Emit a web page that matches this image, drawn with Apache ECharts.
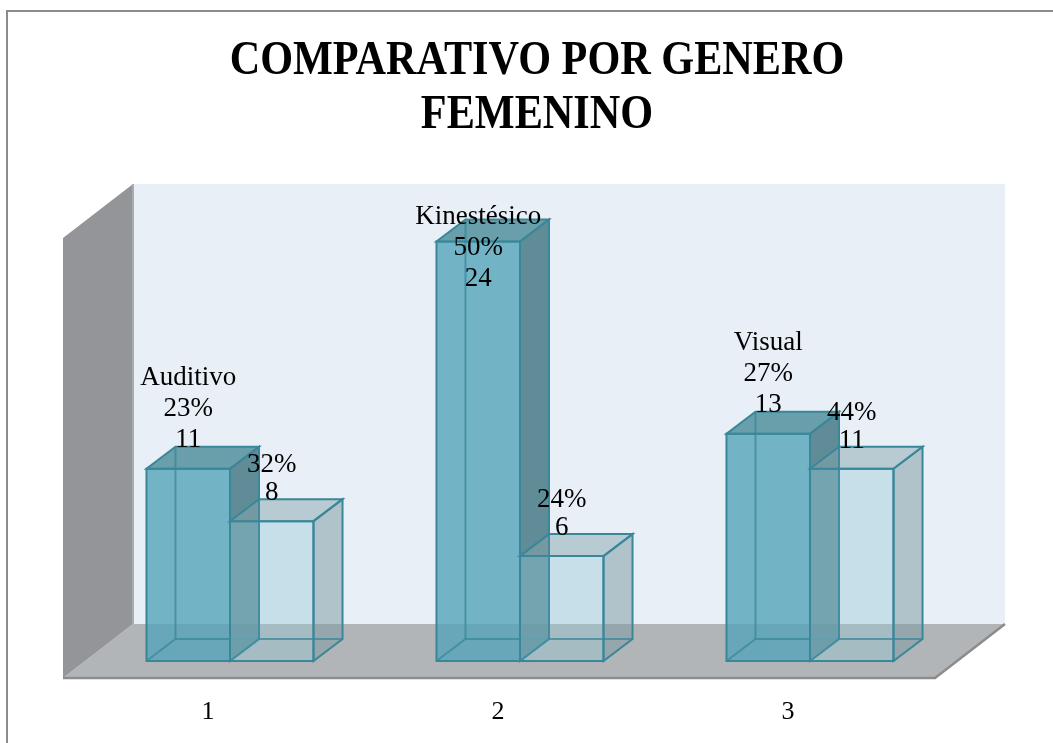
<!DOCTYPE html>
<html>
<head>
<meta charset="utf-8">
<script src="https://cdn.jsdelivr.net/npm/echarts@6/dist/echarts.min.js"></script>
<style>
html, body { margin: 0; padding: 0; background: #ffffff; }
#echarts { width: 1053px; height: 743px; }
</style>
</head>
<body>
<div id="echarts"></div>
<script>
// categorias del eje x
var categories = ['1', '2', '3'];
// nombre de cada estilo (solo en la primera serie)
var styleNames = ['Auditivo', 'Kinestésico', 'Visual'];
// valores de las dos series
var serieA = [11, 24, 13];
var serieB = [8, 6, 11];

var titleLines = ['COMPARATIVO POR GENERO', 'FEMENINO'];

function sum(arr) {
  var s = 0;
  for (var i = 0; i < arr.length; i++) { s += arr[i]; }
  return s;
}
function pct(v, arr) {
  return Math.round(v / sum(arr) * 100) + '%';
}

var edge = '#3a8799';
var colorsA = { front: 'rgba(85,164,186,0.8)', top: 'rgba(81,144,157,0.85)', side: 'rgba(72,122,135,0.85)' };
var colorsB = { front: 'rgba(147,199,213,0.4)', top: 'rgba(136,165,174,0.5)', side: 'rgba(120,151,160,0.5)' };

//dibuja una barra 3D con su etiqueta
function makeBox(side, colors, labelOf, lineCount) {
  return function (params, api) {
    var idx = api.value(0);
    var val = api.value(1);
    var base = api.coord([idx, 0]);
    var topPt = api.coord([idx, val]);
    var band = api.size([1, 0])[0];
    var w = band * 0.288;
    var xl = side === 0 ? base[0] - w : base[0];
    var xr = xl + w;
    var yt = topPt[1], yb = base[1];
    var dx = 29, dy = -22;
    var cs = params.coordSys;
    var lh = lineCount === 3 ? 31 : 28;
    var labelBottom;
    if (lineCount === 3) {
      labelBottom = Math.max(yt - 13, cs.y + 70);
    } else {
      labelBottom = yt - 14;
    }
    return {
      type: 'group',
      children: [
        {
          type: 'rect',
          shape: { x: xl, y: yt, width: w, height: yb - yt },
          style: { fill: colors.front, stroke: edge, lineWidth: 2 }
        },
        {
          type: 'polygon',
          shape: { points: [[xl, yt], [xr, yt], [xr + dx, yt + dy], [xl + dx, yt + dy]] },
          style: { fill: colors.top, stroke: edge, lineWidth: 2 }
        },
        {
          type: 'polygon',
          shape: { points: [[xr, yt], [xr + dx, yt + dy], [xr + dx, yb + dy], [xr, yb]] },
          style: { fill: colors.side, stroke: edge, lineWidth: 2 }
        },
        {
          type: 'polyline',
          shape: { points: [[xl, yb], [xl + dx, yb + dy], [xr + dx, yb + dy]] },
          style: { fill: null, stroke: 'rgba(58,135,153,0.75)', lineWidth: 2 }
        },
        {
          type: 'line',
          shape: { x1: xl + dx, y1: yb + dy, x2: xl + dx, y2: yt + dy },
          style: { stroke: 'rgba(58,135,153,0.75)', lineWidth: 2 }
        },
        {
          type: 'text',
          x: (xl + xr) / 2,
          y: labelBottom,
          z2: 50,
          style: {
            text: labelOf(idx),
            fontSize: 27,
            fontFamily: 'Liberation Serif',
            fill: '#000000',
            align: 'center',
            verticalAlign: 'bottom',
            lineHeight: lh
          }
        }
      ]
    };
  };
}

//paredes y piso del grafico 3D
function renderWalls(params, api) {
  var cs = params.coordSys;
  var fl = cs.x - 22, fr = cs.x + cs.width - 20;
  var fb = cs.y + cs.height + 17, ft = cs.y + 14;
  var dx = 70, dy = -54;
  return {
    type: 'group',
    children: [
      {
        type: 'rect',
        shape: { x: fl + dx, y: ft + dy, width: fr - fl, height: fb - ft },
        style: { fill: '#e8eff6' }
      },
      {
        type: 'polygon',
        shape: { points: [[fl, fb], [fr, fb], [fr + dx, fb + dy], [fl + dx, fb + dy]] },
        style: { fill: '#b2b5b8' }
      },
      {
        type: 'polygon',
        shape: { points: [[fl, ft], [fl + dx, ft + dy], [fl + dx, fb + dy], [fl, fb]] },
        style: { fill: '#939598' }
      },
      {
        type: 'line',
        shape: { x1: fl + dx, y1: ft + dy, x2: fl + dx, y2: fb + dy },
        style: { stroke: '#a9acaf', lineWidth: 2 }
      },
      {
        type: 'polyline',
        shape: { points: [[fl, fb], [fr, fb], [fr + dx, fb + dy]] },
        style: { fill: null, stroke: '#8c8c8c', lineWidth: 2.5 }
      }
    ]
  };
}

var chart = echarts.init(document.getElementById('echarts'));

var dataA = [];
var dataB = [];
for (var i = 0; i < categories.length; i++) {
  dataA.push([i, serieA[i]]);
  dataB.push([i, serieB[i]]);
}

chart.setOption({
  animation: false,
  graphic: [
    {
      type: 'rect',
      shape: { x: 7, y: 11, width: 1100, height: 800 },
      style: { fill: null, stroke: '#8c8c8c', lineWidth: 2 }
    },
    {
      type: 'text',
      x: 537,
      y: 62,
      scaleX: 0.88,
      style: {
        text: titleLines[0],
        fontSize: 48,
        fontWeight: 'bold',
        fontFamily: 'Liberation Serif',
        fill: '#000000',
        align: 'center',
        verticalAlign: 'middle'
      }
    },
    {
      type: 'text',
      x: 537,
      y: 116,
      scaleX: 0.88,
      style: {
        text: titleLines[1],
        fontSize: 48,
        fontWeight: 'bold',
        fontFamily: 'Liberation Serif',
        fill: '#000000',
        align: 'center',
        verticalAlign: 'middle'
      }
    }
  ],
  grid: {
    left: 85,
    width: 870,
    top: 224,
    height: 437
  },
  xAxis: {
    type: 'category',
    data: categories,
    axisLine: { show: false },
    axisTick: { show: false },
    splitLine: { show: false },
    axisLabel: {
      fontSize: 26,
      fontFamily: 'Liberation Serif',
      color: '#000000',
      margin: 38,
      padding: [0, 44, 0, 0]
    }
  },
  yAxis: {
    type: 'value',
    min: 0,
    max: 25,
    show: false
  },
  series: [
    {
      type: 'custom',
      z: 1,
      renderItem: renderWalls,
      data: [[0, 0]],
      silent: true
    },
    {
      type: 'custom',
      z: 2,
      renderItem: makeBox(0, colorsA, function (i) {
        return styleNames[i] + '\n' + pct(serieA[i], serieA) + '\n' + serieA[i];
      }, 3),
      encode: { x: 0, y: 1 },
      data: dataA
    },
    {
      type: 'custom',
      z: 3,
      renderItem: makeBox(1, colorsB, function (i) {
        return pct(serieB[i], serieB) + '\n' + serieB[i];
      }, 2),
      encode: { x: 0, y: 1 },
      data: dataB
    }
  ]
});
</script>
</body>
</html>
